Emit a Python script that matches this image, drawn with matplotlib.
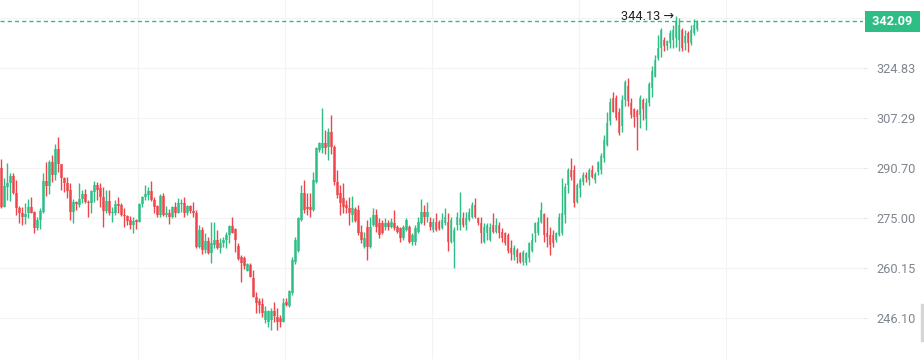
import numpy as np
import matplotlib
matplotlib.use("Agg")
import matplotlib.pyplot as plt
import matplotlib.transforms as mtransforms
from matplotlib.patches import Rectangle

plt.rcParams['font.family'] = ['Roboto', 'DejaVu Sans']

# ---------- data ----------

opens = [290.7, 278.5, 284.7, 285.8, 288.1, 282.8, 278.0, 276.4, 275.4, 276.4,
         278.5, 276.9, 271.9, 274.4, 276.9, 286.5, 285.0, 292.5, 288.4, 296.9,
         291.9, 287.6, 285.9, 283.7, 276.9, 280.0, 279.0, 280.9, 282.3, 280.0,
         279.5, 283.1, 285.3, 284.2, 281.4, 277.2, 280.1, 276.4, 276.4, 279.3,
         279.0, 275.9, 275.6, 274.4, 272.9, 274.4, 273.9, 279.3, 281.4, 282.1,
         283.4, 280.6, 278.7, 275.9, 281.8, 275.9, 276.4, 275.4, 278.3, 276.6,
         279.3, 279.7, 276.4, 278.7, 277.2, 276.4, 266.4, 271.4, 265.4, 268.2,
         264.6, 266.9, 268.4, 265.9, 267.4, 268.4, 269.9, 272.7, 271.6, 266.6,
         263.3, 263.1, 259.4, 261.0, 257.4, 252.0, 250.7, 250.0, 245.6, 245.1,
         245.6, 248.1, 246.5, 246.1, 245.1, 250.6, 249.4, 253.0, 261.8, 265.0,
         274.4, 282.8, 278.5, 278.5, 277.5, 286.3, 296.6, 297.1, 298.8, 297.7,
         302.7, 297.7, 286.3, 282.6, 281.2, 279.0, 278.0, 275.9, 277.8, 277.5,
         270.8, 266.4, 272.4, 266.4, 272.9, 275.9, 273.4, 273.4, 272.4, 273.4,
         272.4, 273.4, 272.4, 271.9, 268.9, 271.4, 272.4, 267.9, 267.9, 270.9,
         273.4, 276.9, 275.4, 273.9, 271.4, 273.9, 273.9, 271.9, 273.4, 273.9,
         267.9, 267.9, 272.9, 272.9, 274.9, 272.9, 274.4, 275.4, 279.0, 274.9,
         273.4, 267.9, 270.4, 268.4, 272.9, 270.9, 272.9, 270.9, 270.4, 269.9,
         265.9, 264.0, 265.4, 264.4, 262.0, 261.7, 263.1, 265.0, 270.4, 270.4,
         273.9, 276.2, 270.5, 269.9, 269.9, 268.4, 269.9, 270.4, 275.9, 285.3,
         290.1, 290.1, 280.0, 284.2, 286.3, 288.4, 286.9, 290.1, 286.9, 289.5,
         290.1, 293.8, 298.2, 306.2, 314.2, 314.2, 309.5, 304.6, 313.6, 318.6,
         312.5, 310.3, 309.7, 308.4, 313.6, 307.0, 312.5, 317.6, 321.8, 328.4,
         332.1, 335.3, 333.0, 333.9, 335.1, 335.8, 335.1, 338.9, 333.9, 337.8,
         333.9, 337.6, 339.2]

highs = [293.6, 287.5, 292.2, 289.2, 289.0, 286.9, 278.7, 278.5, 279.7, 280.8,
         281.4, 277.2, 275.4, 278.0, 289.0, 292.7, 293.3, 294.9, 298.6, 300.8,
         292.0, 287.9, 287.9, 285.8, 280.8, 280.2, 285.9, 283.7, 284.1, 280.6,
         283.7, 286.4, 286.3, 285.8, 284.7, 283.7, 283.7, 278.5, 280.6, 281.6,
         279.5, 278.0, 275.9, 275.6, 275.4, 274.6, 279.5, 281.8, 285.3, 284.7,
         286.4, 281.6, 278.9, 282.4, 282.8, 278.7, 277.7, 278.7, 280.0, 281.1,
         280.8, 281.6, 279.0, 279.0, 280.0, 277.5, 272.9, 272.4, 270.6, 269.2,
         273.9, 273.9, 271.4, 268.9, 269.4, 270.9, 272.9, 275.4, 271.9, 267.6,
         264.0, 263.6, 261.7, 261.6, 259.6, 253.4, 251.5, 251.7, 249.5, 248.3,
         248.8, 250.6, 248.8, 246.9, 251.5, 251.5, 253.9, 263.4, 269.3, 275.3,
         285.3, 286.9, 282.6, 282.6, 289.4, 297.7, 299.1, 310.6, 303.3, 303.9,
         308.3, 298.2, 290.1, 285.3, 285.8, 280.6, 281.6, 281.8, 278.3, 279.0,
         272.9, 270.8, 274.4, 275.4, 278.0, 277.7, 274.9, 274.4, 274.9, 274.4,
         274.9, 277.5, 272.9, 272.4, 272.9, 274.9, 272.9, 270.4, 272.9, 275.4,
         280.8, 279.0, 280.0, 275.4, 274.9, 276.4, 274.4, 276.4, 278.0, 276.4,
         275.4, 272.4, 276.9, 283.2, 276.9, 276.9, 278.0, 280.0, 281.1, 275.4,
         275.4, 273.4, 273.4, 273.4, 276.4, 274.9, 273.9, 271.9, 270.9, 270.4,
         268.4, 266.9, 265.9, 264.9, 265.4, 264.9, 267.9, 270.6, 273.9, 275.4,
         280.0, 276.4, 275.4, 272.4, 271.4, 270.9, 276.4, 287.6, 285.8, 290.6,
         293.8, 291.6, 285.8, 287.6, 289.5, 289.5, 290.6, 291.6, 289.5, 293.1,
         295.6, 301.6, 309.5, 314.2, 316.4, 315.1, 310.8, 315.1, 320.5, 321.3,
         314.2, 310.8, 310.3, 315.1, 314.2, 314.2, 319.9, 325.4, 329.7, 337.0,
         339.5, 336.3, 335.1, 338.9, 340.8, 344.13, 343.4, 339.5, 338.9, 338.3,
         340.8, 342.9, 342.7]

lows = [278.1, 278.4, 280.6, 280.4, 282.4, 275.9, 273.6, 272.9, 273.2, 274.9,
        276.4, 270.6, 271.4, 271.6, 276.6, 281.8, 282.4, 286.3, 286.9, 289.5,
        283.7, 283.1, 281.1, 274.4, 273.4, 277.5, 278.5, 279.5, 279.7, 275.4,
        276.4, 280.0, 280.6, 278.3, 272.4, 276.4, 275.9, 273.9, 275.9, 276.4,
        275.6, 272.4, 272.9, 271.6, 270.6, 271.6, 273.9, 278.5, 280.6, 280.6,
        280.2, 276.4, 275.4, 275.2, 275.6, 275.4, 273.2, 275.1, 275.2, 276.4,
        276.8, 275.2, 275.9, 276.4, 275.4, 265.9, 265.9, 264.2, 264.4, 264.3,
        261.7, 265.9, 265.6, 264.4, 266.4, 265.9, 267.4, 270.4, 264.9, 262.5,
        256.2, 259.9, 259.2, 257.5, 251.8, 247.4, 247.4, 246.5, 244.7, 243.7,
        242.8, 245.1, 242.8, 243.7, 244.9, 249.5, 249.2, 252.5, 261.4, 264.8,
        274.1, 276.4, 275.9, 275.4, 277.2, 285.8, 296.0, 295.5, 295.4, 293.3,
        295.4, 285.3, 281.1, 275.9, 276.4, 276.4, 272.9, 273.7, 273.7, 269.9,
        267.4, 265.9, 262.5, 266.1, 272.6, 270.8, 268.9, 270.1, 271.4, 271.4,
        272.1, 271.4, 270.4, 267.7, 268.4, 271.1, 267.4, 266.9, 266.9, 270.4,
        273.1, 272.9, 273.9, 271.4, 270.9, 271.1, 271.3, 271.6, 272.9, 265.0,
        267.6, 260.1, 271.4, 271.4, 272.4, 271.4, 274.1, 275.1, 274.9, 272.9,
        267.4, 267.4, 268.4, 268.1, 270.4, 270.4, 268.9, 267.9, 266.9, 264.4,
        262.5, 262.5, 261.6, 261.7, 261.0, 261.0, 262.0, 264.7, 267.9, 269.9,
        273.4, 267.9, 266.4, 263.9, 266.4, 267.9, 269.6, 269.9, 273.4, 282.6,
        286.9, 278.5, 279.5, 281.6, 285.3, 286.3, 285.3, 287.4, 285.8, 288.4,
        288.9, 292.8, 297.9, 304.8, 309.2, 306.7, 301.6, 302.7, 311.4, 311.4,
        307.2, 304.3, 296.6, 303.8, 306.6, 303.3, 311.4, 314.7, 321.5, 327.8,
        329.0, 330.9, 331.5, 332.1, 332.1, 332.7, 330.9, 330.9, 331.5, 330.5,
        333.2, 336.9, 338.3]

closes = [278.4, 285.0, 286.0, 288.1, 282.6, 278.0, 276.4, 275.4, 276.2, 278.5,
          276.6, 272.0, 274.4, 277.1, 286.5, 285.0, 292.5, 288.4, 296.9, 291.9,
          287.6, 285.9, 283.3, 276.9, 280.0, 279.2, 280.9, 282.3, 279.8, 279.5,
          283.4, 285.3, 283.7, 281.4, 277.2, 280.1, 276.4, 276.8, 279.3, 278.8,
          275.9, 275.6, 274.2, 272.9, 274.0, 273.9, 279.3, 281.4, 282.3, 283.4,
          280.6, 278.5, 275.9, 281.8, 275.9, 276.4, 275.4, 278.3, 276.6, 279.5,
          279.7, 276.6, 278.7, 277.2, 276.4, 266.4, 271.4, 265.4, 268.2, 264.6,
          267.4, 268.4, 265.9, 267.4, 268.4, 269.9, 272.7, 270.6, 268.4, 262.8,
          261.6, 260.6, 261.4, 257.6, 252.0, 250.1, 249.7, 247.4, 248.1, 247.9,
          247.9, 246.6, 245.1, 245.0, 250.1, 249.7, 253.7, 262.6, 268.4, 274.9,
          282.8, 277.5, 277.7, 277.5, 286.9, 297.1, 298.8, 298.8, 297.1, 302.7,
          297.7, 286.3, 282.1, 279.5, 278.5, 278.0, 276.4, 278.0, 274.0, 270.4,
          268.4, 268.9, 266.4, 272.4, 275.9, 272.4, 269.9, 270.4, 273.4, 272.4,
          273.9, 271.9, 270.9, 268.9, 272.4, 274.4, 267.9, 269.9, 271.9, 273.9,
          276.9, 275.4, 276.9, 272.4, 273.9, 271.4, 271.6, 274.4, 275.4, 267.9,
          274.4, 271.4, 275.4, 274.9, 272.9, 274.9, 276.9, 279.0, 275.4, 273.4,
          270.4, 272.4, 272.9, 272.4, 270.9, 272.9, 270.4, 268.9, 267.4, 265.0,
          264.4, 265.9, 263.4, 262.0, 264.9, 264.4, 267.4, 268.4, 273.4, 273.9,
          277.5, 269.9, 269.4, 266.9, 267.4, 270.4, 275.4, 276.4, 284.7, 290.1,
          287.9, 279.5, 285.3, 286.9, 288.4, 287.4, 290.1, 287.9, 288.9, 292.8,
          294.5, 299.9, 305.5, 312.9, 309.5, 307.3, 302.1, 313.6, 319.8, 313.0,
          308.4, 307.6, 307.6, 314.2, 310.4, 312.5, 319.3, 323.6, 327.8, 332.1,
          338.9, 333.0, 334.9, 337.7, 338.9, 341.9, 340.8, 332.2, 336.6, 334.1,
          338.9, 340.8, 342.09]

tick_values = [246.10, 260.15, 275.00, 290.70, 307.29, 324.83, 343.38]
tick_labels = ['246.10', '260.15', '275.00', '290.70', '307.29', '324.83', '']
last_price = 342.09

green = '#2ebd85'
red = '#ef454a'

# ---------- plot ----------

o = np.array(opens)
h = np.array(highs)
l = np.array(lows)
c = np.array(closes)
x = np.arange(len(o))
up = c >= o
colors = np.where(up, green, red)

fig = plt.figure(figsize=(9.24, 3.59), dpi=100)
ax = fig.add_axes([0, 0, 863 / 924, 1])
ax.set_yscale('log')

ax.vlines(x, l, h, colors=colors, linewidth=1.0, zorder=3)
body_lo = np.minimum(o, c)
body_h = np.maximum(np.abs(c - o), 0.25)
ax.bar(x, body_h, bottom=body_lo, width=0.7, color=colors, alpha=0.7,
       linewidth=0, zorder=2)

ax.set_xlim(-0.5, 287.2)
ax.set_ylim(235.15, 350.34)

ax.set_xticks(np.arange(45.5, 287, 49))
ax.set_xticklabels([])
ax.tick_params(axis='x', length=0)
ax.set_yticks(tick_values)
ax.set_yticklabels(tick_labels)
ax.yaxis.set_minor_locator(matplotlib.ticker.NullLocator())
ax.yaxis.tick_right()
ax.tick_params(axis='y', length=3, width=0.8, color='#e6e6e6', pad=6.5,
               labelsize=9.2, labelcolor='#80868f')
ax.grid(True, color='#f3f3f3', linewidth=0.8, zorder=0)
ax.set_axisbelow(True)
for s in ax.spines.values():
    s.set_visible(False)

# last price line and label
ax.axhline(last_price, color=green, linewidth=1.0, linestyle=(0, (3.0, 2.2)), zorder=1)
trans = mtransforms.blended_transform_factory(ax.transAxes, ax.transData)
ax.text(1.0342, last_price, ' %.2f ' % last_price, transform=trans, ha='center',
        va='center', color='white', fontsize=9.2, fontweight='bold', clip_on=False,
        bbox=dict(boxstyle='square,pad=0.3', facecolor=green, edgecolor='none'))

# max high marker
imax = int(np.argmax(h))
ax.annotate('%.2f →' % h[imax], xy=(imax, h[imax]), xytext=(-2, 0),
            textcoords='offset pixels', ha='right', va='center',
            fontsize=9.2, color='#1e2329')

# scroll thumb at the bottom right
fig.patches.append(Rectangle((921 / 924, 1 - 341 / 359), 3 / 924, 37 / 359,
                             transform=fig.transFigure, color='#d6d6d6'))

fig.savefig('out.png', dpi=100)
